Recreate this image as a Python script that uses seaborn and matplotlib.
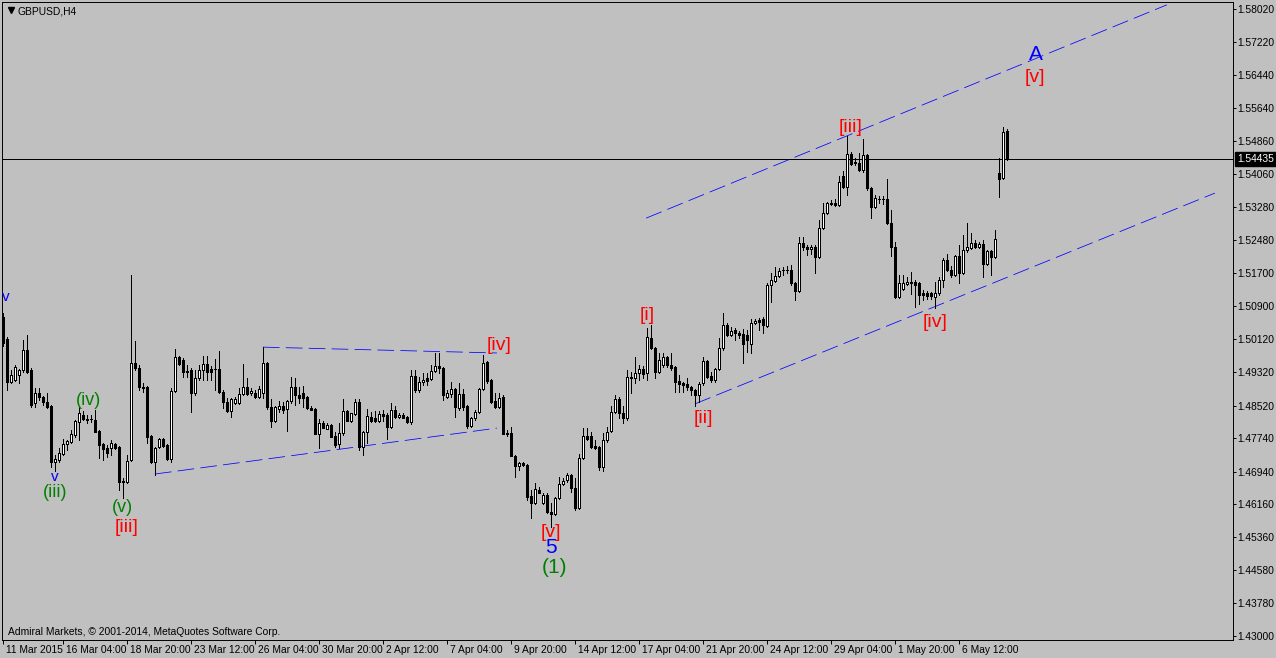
import numpy as np
import pandas as pd
import matplotlib
matplotlib.use("Agg")
import matplotlib.pyplot as plt
import matplotlib.transforms as mtransforms
import seaborn as sns

# ---------------- data (GBPUSD H4) ----------------
opens = [
1.5064, 1.5012, 1.4909, 1.4913, 1.4925, 1.4937, 1.4985, 1.4937, 1.4858, 1.4882,
1.4873, 1.4861, 1.4851, 1.4717, 1.4722, 1.4736, 1.4760, 1.4765, 1.4782, 1.4813,
1.4829, 1.4820, 1.4820, 1.4817, 1.4791, 1.4760, 1.4750, 1.4750, 1.4760, 1.4753,
1.4671, 1.4669, 1.4722, 1.4954, 1.4942, 1.4897, 1.4897, 1.4779, 1.4717, 1.4753,
1.4772, 1.4758, 1.4724, 1.4887, 1.4968, 1.4961, 1.4935, 1.4937, 1.4882, 1.4918,
1.4937, 1.4952, 1.4940, 1.4940, 1.4940, 1.4885, 1.4861, 1.4839, 1.4858, 1.4858,
1.4880, 1.4897, 1.4882, 1.4882, 1.4873, 1.4882, 1.4954, 1.4849, 1.4815, 1.4844,
1.4851, 1.4844, 1.4863, 1.4897, 1.4877, 1.4882, 1.4873, 1.4846, 1.4844, 1.4784,
1.4810, 1.4796, 1.4805, 1.4779, 1.4760, 1.4786, 1.4839, 1.4815, 1.4832, 1.4861,
1.4753, 1.4789, 1.4825, 1.4822, 1.4815, 1.4832, 1.4829, 1.4801, 1.4841, 1.4825,
1.4829, 1.4825, 1.4813, 1.4923, 1.4889, 1.4909, 1.4918, 1.4916, 1.4935, 1.4947,
1.4942, 1.4873, 1.4880, 1.4892, 1.4846, 1.4880, 1.4851, 1.4803, 1.4822, 1.4837,
1.4892, 1.4956, 1.4913, 1.4863, 1.4849, 1.4873, 1.4786, 1.4786, 1.4731, 1.4707,
1.4714, 1.4710, 1.4636, 1.4619, 1.4650, 1.4619, 1.4638, 1.4597, 1.4592, 1.4631,
1.4664, 1.4674, 1.4686, 1.4655, 1.4607, 1.4726, 1.4779, 1.4779, 1.4755, 1.4753,
1.4705, 1.4770, 1.4791, 1.4837, 1.4868, 1.4834, 1.4822, 1.4920, 1.4918, 1.4930,
1.4940, 1.4930, 1.5014, 1.4990, 1.4932, 1.4949, 1.4968, 1.4949, 1.4944, 1.4911,
1.4906, 1.4904, 1.4897, 1.4889, 1.4877, 1.4906, 1.4959, 1.4923, 1.4913, 1.4940,
1.4990, 1.5045, 1.5021, 1.5033, 1.5026, 1.5024, 1.5021, 1.5000, 1.5050, 1.5057,
1.5060, 1.5043, 1.5141, 1.5150, 1.5162, 1.5177, 1.5177, 1.5177, 1.5146, 1.5127,
1.5241, 1.5232, 1.5227, 1.5232, 1.5208, 1.5277, 1.5313, 1.5335, 1.5337, 1.5333,
1.5402, 1.5376, 1.5455, 1.5436, 1.5433, 1.5416, 1.5452, 1.5373, 1.5328, 1.5347,
1.5347, 1.5347, 1.5289, 1.5232, 1.5112, 1.5131, 1.5143, 1.5148, 1.5148, 1.5146,
1.5122, 1.5122, 1.5122, 1.5112, 1.5122, 1.5153, 1.5201, 1.5177, 1.5165, 1.5210,
1.5170, 1.5225, 1.5230, 1.5241, 1.5232, 1.5239, 1.5191, 1.5222, 1.5208, 1.5409,
1.5397, 1.5510]

highs = [
1.5074, 1.5016, 1.4937, 1.4949, 1.4940, 1.5009, 1.5021, 1.4942, 1.4894, 1.4894,
1.4875, 1.4882, 1.4853, 1.4734, 1.4750, 1.4772, 1.4770, 1.4794, 1.4817, 1.4849,
1.4839, 1.4829, 1.4829, 1.4841, 1.4794, 1.4762, 1.4758, 1.4770, 1.4762, 1.4755,
1.4679, 1.4734, 1.5165, 1.5007, 1.4949, 1.4906, 1.4899, 1.4782, 1.4753, 1.4774,
1.4774, 1.4760, 1.4894, 1.4988, 1.4971, 1.4966, 1.4949, 1.4942, 1.4937, 1.4949,
1.4971, 1.4971, 1.4947, 1.4964, 1.4983, 1.4889, 1.4870, 1.4870, 1.4873, 1.4894,
1.4952, 1.4918, 1.4894, 1.4889, 1.4899, 1.4992, 1.4956, 1.4868, 1.4851, 1.4863,
1.4861, 1.4865, 1.4920, 1.4918, 1.4897, 1.4899, 1.4875, 1.4851, 1.4846, 1.4820,
1.4815, 1.4810, 1.4808, 1.4789, 1.4810, 1.4868, 1.4841, 1.4834, 1.4868, 1.4868,
1.4791, 1.4844, 1.4837, 1.4839, 1.4839, 1.4841, 1.4834, 1.4858, 1.4851, 1.4834,
1.4834, 1.4827, 1.4937, 1.4937, 1.4920, 1.4930, 1.4930, 1.4949, 1.4978, 1.4978,
1.4944, 1.4889, 1.4909, 1.4894, 1.4906, 1.4892, 1.4853, 1.4825, 1.4841, 1.4894,
1.4973, 1.4959, 1.4916, 1.4882, 1.4882, 1.4877, 1.4794, 1.4801, 1.4734, 1.4717,
1.4717, 1.4712, 1.4650, 1.4667, 1.4657, 1.4643, 1.4643, 1.4619, 1.4633, 1.4681,
1.4679, 1.4691, 1.4688, 1.4679, 1.4736, 1.4798, 1.4798, 1.4789, 1.4770, 1.4755,
1.4786, 1.4801, 1.4851, 1.4877, 1.4873, 1.4851, 1.4937, 1.4932, 1.4968, 1.4949,
1.4947, 1.5038, 1.5045, 1.4992, 1.4978, 1.4978, 1.4971, 1.4978, 1.4947, 1.4925,
1.4909, 1.4918, 1.4899, 1.4892, 1.4909, 1.4968, 1.4961, 1.4932, 1.4942, 1.5014,
1.5074, 1.5050, 1.5040, 1.5038, 1.5031, 1.5036, 1.5033, 1.5060, 1.5060, 1.5062,
1.5064, 1.5146, 1.5170, 1.5184, 1.5182, 1.5184, 1.5186, 1.5189, 1.5148, 1.5256,
1.5256, 1.5237, 1.5237, 1.5237, 1.5297, 1.5337, 1.5340, 1.5345, 1.5347, 1.5402,
1.5414, 1.5498, 1.5460, 1.5445, 1.5457, 1.5491, 1.5455, 1.5376, 1.5356, 1.5354,
1.5354, 1.5395, 1.5321, 1.5244, 1.5165, 1.5165, 1.5160, 1.5172, 1.5153, 1.5148,
1.5129, 1.5127, 1.5124, 1.5148, 1.5160, 1.5206, 1.5215, 1.5186, 1.5213, 1.5237,
1.5261, 1.5289, 1.5265, 1.5249, 1.5244, 1.5249, 1.5225, 1.5225, 1.5273, 1.5445,
1.5519, 1.5515]

lows = [
1.4995, 1.4889, 1.4906, 1.4911, 1.4906, 1.4932, 1.4930, 1.4849, 1.4849, 1.4865,
1.4853, 1.4846, 1.4705, 1.4695, 1.4717, 1.4734, 1.4746, 1.4762, 1.4777, 1.4770,
1.4817, 1.4810, 1.4813, 1.4789, 1.4726, 1.4722, 1.4729, 1.4734, 1.4748, 1.4650,
1.4631, 1.4667, 1.4719, 1.4937, 1.4889, 1.4885, 1.4762, 1.4714, 1.4686, 1.4750,
1.4753, 1.4722, 1.4717, 1.4885, 1.4949, 1.4920, 1.4920, 1.4837, 1.4877, 1.4913,
1.4913, 1.4913, 1.4913, 1.4889, 1.4882, 1.4846, 1.4837, 1.4825, 1.4856, 1.4856,
1.4877, 1.4877, 1.4877, 1.4870, 1.4870, 1.4870, 1.4844, 1.4801, 1.4813, 1.4837,
1.4834, 1.4791, 1.4858, 1.4853, 1.4858, 1.4849, 1.4844, 1.4841, 1.4784, 1.4750,
1.4798, 1.4796, 1.4777, 1.4753, 1.4750, 1.4782, 1.4815, 1.4813, 1.4829, 1.4746,
1.4734, 1.4762, 1.4813, 1.4813, 1.4813, 1.4815, 1.4772, 1.4798, 1.4822, 1.4822,
1.4822, 1.4810, 1.4808, 1.4885, 1.4885, 1.4901, 1.4901, 1.4913, 1.4932, 1.4930,
1.4865, 1.4870, 1.4873, 1.4825, 1.4841, 1.4841, 1.4798, 1.4801, 1.4817, 1.4834,
1.4889, 1.4906, 1.4858, 1.4846, 1.4846, 1.4784, 1.4779, 1.4731, 1.4681, 1.4698,
1.4707, 1.4626, 1.4583, 1.4616, 1.4643, 1.4616, 1.4595, 1.4561, 1.4590, 1.4628,
1.4662, 1.4669, 1.4645, 1.4602, 1.4604, 1.4724, 1.4770, 1.4750, 1.4748, 1.4698,
1.4695, 1.4765, 1.4789, 1.4834, 1.4822, 1.4810, 1.4817, 1.4882, 1.4906, 1.4913,
1.4918, 1.4913, 1.4988, 1.4918, 1.4930, 1.4944, 1.4944, 1.4937, 1.4885, 1.4885,
1.4885, 1.4889, 1.4877, 1.4851, 1.4861, 1.4901, 1.4918, 1.4909, 1.4909, 1.4937,
1.4985, 1.5019, 1.5019, 1.5009, 1.5014, 1.4954, 1.4980, 1.4978, 1.5048, 1.5033,
1.5026, 1.5040, 1.5100, 1.5148, 1.5160, 1.5165, 1.5170, 1.5141, 1.5105, 1.5124,
1.5225, 1.5213, 1.5215, 1.5170, 1.5206, 1.5275, 1.5311, 1.5333, 1.5330, 1.5330,
1.5373, 1.5356, 1.5428, 1.5428, 1.5414, 1.5412, 1.5368, 1.5301, 1.5325, 1.5337,
1.5335, 1.5287, 1.5210, 1.5110, 1.5110, 1.5129, 1.5141, 1.5119, 1.5088, 1.5095,
1.5105, 1.5107, 1.5107, 1.5086, 1.5117, 1.5136, 1.5174, 1.5160, 1.5162, 1.5146,
1.5167, 1.5220, 1.5227, 1.5230, 1.5230, 1.5160, 1.5189, 1.5165, 1.5206, 1.5352,
1.5395, 1.5440]

closes = [
1.5002, 1.4909, 1.4925, 1.4944, 1.4937, 1.4985, 1.4932, 1.4853, 1.4882, 1.4873,
1.4861, 1.4849, 1.4717, 1.4724, 1.4738, 1.4760, 1.4767, 1.4784, 1.4815, 1.4834,
1.4820, 1.4817, 1.4819, 1.4789, 1.4758, 1.4748, 1.4738, 1.4762, 1.4750, 1.4669,
1.4669, 1.4719, 1.4954, 1.4942, 1.4897, 1.4894, 1.4777, 1.4717, 1.4750, 1.4772,
1.4755, 1.4724, 1.4887, 1.4968, 1.4952, 1.4932, 1.4932, 1.4882, 1.4918, 1.4937,
1.4952, 1.4932, 1.4932, 1.4939, 1.4885, 1.4861, 1.4839, 1.4868, 1.4868, 1.4880,
1.4897, 1.4880, 1.4887, 1.4873, 1.4892, 1.4954, 1.4849, 1.4815, 1.4849, 1.4851,
1.4841, 1.4863, 1.4897, 1.4877, 1.4870, 1.4870, 1.4846, 1.4841, 1.4784, 1.4810,
1.4798, 1.4805, 1.4777, 1.4758, 1.4786, 1.4839, 1.4815, 1.4834, 1.4861, 1.4753,
1.4789, 1.4827, 1.4815, 1.4815, 1.4832, 1.4827, 1.4801, 1.4841, 1.4825, 1.4829,
1.4822, 1.4813, 1.4923, 1.4889, 1.4909, 1.4913, 1.4911, 1.4935, 1.4947, 1.4942,
1.4877, 1.4882, 1.4892, 1.4849, 1.4880, 1.4849, 1.4803, 1.4822, 1.4837, 1.4892,
1.4954, 1.4911, 1.4861, 1.4849, 1.4870, 1.4784, 1.4784, 1.4731, 1.4707, 1.4714,
1.4710, 1.4633, 1.4619, 1.4652, 1.4643, 1.4638, 1.4597, 1.4592, 1.4631, 1.4664,
1.4671, 1.4686, 1.4655, 1.4607, 1.4726, 1.4779, 1.4772, 1.4753, 1.4750, 1.4705,
1.4770, 1.4789, 1.4837, 1.4868, 1.4834, 1.4822, 1.4920, 1.4918, 1.4930, 1.4940,
1.4928, 1.5016, 1.4990, 1.4932, 1.4961, 1.4968, 1.4949, 1.4942, 1.4909, 1.4904,
1.4901, 1.4897, 1.4889, 1.4877, 1.4904, 1.4959, 1.4920, 1.4913, 1.4940, 1.4990,
1.5045, 1.5021, 1.5031, 1.5026, 1.5021, 1.5000, 1.5009, 1.5050, 1.5055, 1.5052,
1.5045, 1.5141, 1.5153, 1.5162, 1.5174, 1.5176, 1.5176, 1.5146, 1.5127, 1.5241,
1.5232, 1.5227, 1.5232, 1.5208, 1.5277, 1.5313, 1.5337, 1.5337, 1.5333, 1.5388,
1.5376, 1.5455, 1.5431, 1.5433, 1.5416, 1.5452, 1.5373, 1.5328, 1.5349, 1.5346,
1.5346, 1.5289, 1.5232, 1.5112, 1.5146, 1.5146, 1.5148, 1.5146, 1.5141, 1.5117,
1.5117, 1.5115, 1.5115, 1.5122, 1.5153, 1.5201, 1.5177, 1.5165, 1.5210, 1.5170,
1.5225, 1.5232, 1.5241, 1.5232, 1.5239, 1.5191, 1.5222, 1.5208, 1.5251, 1.5395,
1.5507, 1.54435]

date_labels = ["11 Mar 2015", "16 Mar 04:00", "18 Mar 20:00", "23 Mar 12:00",
               "26 Mar 04:00", "30 Mar 20:00", "2 Apr 12:00", "7 Apr 04:00",
               "9 Apr 20:00", "14 Apr 12:00", "17 Apr 04:00", "21 Apr 20:00",
               "24 Apr 12:00", "29 Apr 04:00", "1 May 20:00", "6 May 12:00"]
date_label_bars = [0, 15, 31, 47, 63, 79, 95, 111, 127, 143, 159, 175, 191, 207, 223, 239]

price_ticks = [1.58020, 1.57220, 1.56440, 1.55640, 1.54860, 1.54060, 1.53280,
               1.52480, 1.51700, 1.50900, 1.50120, 1.49320, 1.48520, 1.47740,
               1.46940, 1.46160, 1.45360, 1.44580, 1.43780, 1.43000]
last_price = 1.54435

# trend lines: (bar1, price1, bar2, price2)
trend_lines = [
    (64.9, 1.4992, 123.4, 1.4978),
    (37.9, 1.4688, 123.4, 1.4798),
    (172.9, 1.4856, 302.9, 1.5361),
    (160.7, 1.5301, 290.9, 1.5812),
]

RED, BLUE, GREEN = "#FF0000", "#0000FF", "#008000"
wave_labels = [
    ("v", 0.7, 1.5112, BLUE, 11),
    ("v", 12.9, 1.4681, BLUE, 11),
    ("(iii)", 12.9, 1.4643, GREEN, 13),
    ("(iv)", 21.2, 1.4863, GREEN, 13),
    ("(v)", 29.7, 1.4609, GREEN, 13),
    ("[iii]", 30.7, 1.4561, RED, 14),
    ("[iv]", 123.9, 1.4995, RED, 14),
    ("[v]", 137.0, 1.4549, RED, 14),
    ("5", 137.0, 1.4511, BLUE, 15),
    ("(1)", 137.9, 1.4465, GREEN, 15),
    ("[i]", 160.9, 1.5067, RED, 14),
    ("[ii]", 174.9, 1.4820, RED, 14),
    ("[iii]", 211.7, 1.5517, RED, 14),
    ("[iv]", 232.9, 1.5052, RED, 14),
    ("A", 258.2, 1.5692, BLUE, 15),
    ("[v]", 257.9, 1.5637, RED, 14),
]

# ---------------- styling ----------------
sns.set_theme(style="white")
plt.rcParams['font.family'] = ['Liberation Sans', 'DejaVu Sans']
plt.rcParams['lines.scale_dashes'] = False

W, H = 1276, 658
BG = "#C0C0C0"
fig = plt.figure(figsize=(W / 100, H / 100), dpi=100, facecolor=BG)
PL, PR, PT, PB = 2, 1233, 2, 640
ax = fig.add_axes([PL / W, 1 - PB / H, (PR - PL) / W, (PB - PT) / H])
ax.set_facecolor(BG)

df = pd.DataFrame({"open": opens, "high": highs, "low": lows, "close": closes})
df["bar"] = np.arange(len(df))
up = df["close"] >= df["open"]

LW = 0.7
# wicks
ax.vlines(df["bar"], df["low"], df["high"], colors="black", linewidth=0.6,
          antialiased=False, zorder=3)
# bodies
dfu, dfd = df[up], df[~up]
ax.bar(dfu["bar"], dfu["close"] - dfu["open"], bottom=dfu["open"], width=0.55,
       color="white", edgecolor="black", linewidth=0.6, antialiased=False, zorder=4)
ax.bar(dfd["bar"], dfd["open"] - dfd["close"], bottom=dfd["close"], width=0.55,
       color="black", edgecolor="black", linewidth=0.6, antialiased=False, zorder=4)

# current price line
ax.axhline(last_price, color="black", linewidth=LW, antialiased=False, zorder=2)

# trend lines (thin 1 px dashed blue)
for x1, p1, x2, p2 in trend_lines:
    sns.lineplot(x=[x1, x2], y=[p1, p2], ax=ax, color=BLUE, linewidth=0.55,
                 linestyle=(0, (12, 4.5)), antialiased=True, zorder=2)

# wave labels
for s, bx, py, col, fs in wave_labels:
    ax.text(bx, py, s, color=col, fontsize=fs, ha="center", va="center",
            family=["Liberation Sans", "DejaVu Sans"], zorder=5)

# scales
def px_to_price(y):
    return 1.5802 - (y - 9) * (0.1502 / 627)

ax.set_xlim((PL - 3.3) / 4, (PR - 3.3) / 4)
ax.set_ylim(px_to_price(PB), px_to_price(PT))
ax.set_xlabel("")
ax.set_ylabel("")

for sp in ax.spines.values():
    sp.set_visible(True)
    sp.set_color("black")
    sp.set_linewidth(LW)

FS = 7.4
ax.yaxis.tick_right()
ax.set_yticks(price_ticks)
ax.set_yticklabels([f"{v:.5f}" for v in price_ticks])
ax.tick_params(axis="y", which="both", right=True, left=False, labelright=True,
               labelleft=False, direction="out", length=2.2, width=LW, pad=1,
               labelsize=FS, colors="black")

ax.set_xticks(date_label_bars)
ax.set_xticklabels(date_labels)
ax.tick_params(axis="x", which="both", bottom=True, top=False, labelbottom=True,
               direction="out", length=3.0, width=LW, pad=0.5, labelsize=FS,
               colors="black")
offset = mtransforms.ScaledTranslation(3 / 100, 0, fig.dpi_scale_trans)
for lab in ax.get_xticklabels():
    lab.set_horizontalalignment("left")
    lab.set_transform(lab.get_transform() + offset)
ax.grid(False)

# current price box on the scale
trans = mtransforms.blended_transform_factory(ax.transAxes, ax.transData)
ax.text(1 + 4 / (PR - PL), last_price, f"{last_price:.5f}", transform=trans,
        color="white", fontsize=FS, ha="left", va="center", zorder=6,
        bbox=dict(boxstyle="square,pad=0.18", fc="black", ec="black"), clip_on=False)

# header and footer texts
def ax_frac(xp, yp):
    return (xp - PL) / (PR - PL), (PB - yp) / (PB - PT)

tx, ty = ax_frac(11, 10)
ax.plot([tx], [ty], marker="v", markersize=4.2, color="black", transform=ax.transAxes,
        clip_on=False, zorder=6)
tx, ty = ax_frac(18, 11)
ax.text(tx, ty, "GBPUSD,H4", transform=ax.transAxes, fontsize=FS, color="black",
        ha="left", va="center")
tx, ty = ax_frac(8, 632)
ax.text(tx, ty, "Admiral Markets, \u00a9 2001-2014, MetaQuotes Software Corp.",
        transform=ax.transAxes, fontsize=FS, color="black", ha="left", va="center")

fig.savefig("out.png", dpi=100, facecolor=BG)
